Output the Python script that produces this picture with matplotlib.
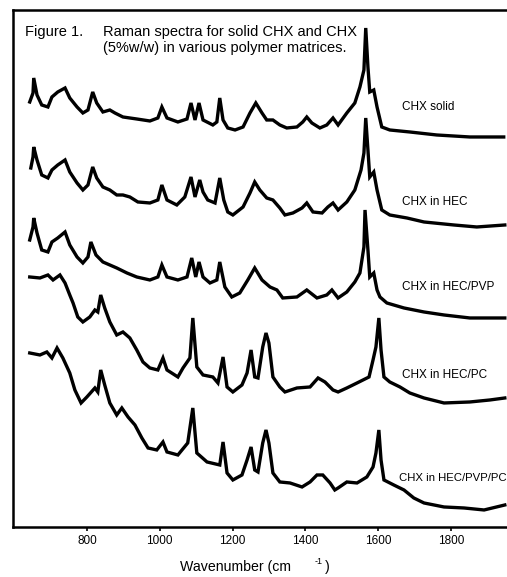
import matplotlib
matplotlib.use("Agg")
import matplotlib.pyplot as plt

plt.rcParams['font.family'] = ['Liberation Sans', 'DejaVu Sans']

# wavenumber (cm-1) / intensity (arb., stacked)
wn_solid = [643, 652, 654, 663, 676, 693, 704, 720, 740, 753, 773, 789, 803, 816, 827, 844, 863, 877,
            899, 937, 973, 995, 1006, 1020, 1050, 1075, 1086, 1097, 1108, 1119, 1146, 1157, 1165, 1174,
            1187, 1207, 1229, 1248, 1264, 1281, 1294, 1311, 1330, 1349, 1377, 1393, 1404, 1418, 1440,
            1459, 1476, 1490, 1514, 1536, 1550, 1561, 1566, 1572, 1577, 1588, 1597, 1610, 1632, 1687,
            1761, 1852, 1945]
int_solid = [425, 434, 449, 432, 422, 420, 430, 435, 439, 429, 420, 414, 417, 435, 424, 415, 417, 414,
             410, 408, 406, 409, 420, 409, 405, 408, 424, 407, 424, 407, 402, 405, 429, 407,
             399, 397, 400, 414, 424, 414, 407, 407, 402, 399, 400, 405, 410, 404, 399,
             402, 409, 402, 414, 424, 440, 457, 499, 460, 435, 437, 420, 400, 397, 395,
             392, 390, 390]

wn_hec = [646, 652, 654, 663, 676, 693, 704, 720, 740, 753, 773, 789, 803, 816, 827, 844, 863, 882,
          899, 918, 940, 973, 995, 1006, 1020, 1047, 1069, 1086, 1097, 1110, 1119, 1132, 1152, 1165,
          1176, 1187, 1201, 1229, 1248, 1261, 1275, 1294, 1311, 1330, 1344, 1366, 1391, 1404, 1421,
          1446, 1462, 1476, 1490, 1514, 1536, 1553, 1561, 1566, 1572, 1577, 1588, 1597, 1610, 1632,
          1679, 1726, 1808, 1871, 1948]
int_hec = [359, 370, 380, 367, 352, 349, 357, 362, 367, 355, 344, 337, 342, 360, 349, 340, 337, 332,
           332, 330, 325, 324, 327, 342, 327, 322, 330, 350, 330, 347, 335, 327, 324, 349,
           327, 315, 312, 320, 334, 345, 337, 329, 327, 319, 312, 314, 319, 324, 315,
           314, 320, 324, 317, 325, 337, 357, 374, 409, 377, 350, 355, 337, 317, 312,
           309, 305, 302, 300, 302]

wn_pvp = [643, 652, 654, 663, 676, 693, 704, 720, 740, 753, 773, 789, 803, 811, 825, 844, 863, 882,
          910, 937, 973, 995, 1006, 1020, 1050, 1075, 1088, 1099, 1108, 1119, 1138, 1157, 1165, 1179,
          1198, 1220, 1242, 1261, 1281, 1303, 1322, 1338, 1377, 1404, 1432, 1459, 1473, 1490, 1514,
          1536, 1550, 1561, 1564, 1572, 1577, 1588, 1597, 1605, 1624, 1671, 1726, 1781, 1852, 1948]
int_pvp = [287, 300, 309, 294, 277, 275, 285, 289, 295, 282, 270, 264, 270, 285, 272, 265, 262, 259,
           254, 250, 247, 250, 262, 250, 247, 250, 269, 250, 265, 250, 244, 247, 265, 240,
           230, 234, 247, 259, 247, 240, 237, 229, 230, 237, 229, 232, 237, 229, 235,
           245, 254, 280, 317, 277, 250, 254, 237, 230, 224, 219, 215, 212, 209, 209]

wn_pc = [643, 671, 693, 707, 726, 740, 753, 762, 775, 789, 808, 822, 830, 838, 849, 863, 882, 899,
         918, 937, 954, 973, 995, 1009, 1020, 1050, 1064, 1083, 1091, 1102, 1119, 1146, 1160, 1174,
         1185, 1201, 1226, 1240, 1251, 1261, 1270, 1283, 1292, 1300, 1311, 1330, 1344, 1377, 1413,
         1435, 1454, 1476, 1490, 1514, 1542, 1575, 1586, 1594, 1602, 1608, 1616, 1632, 1660, 1687,
         1726, 1781, 1852, 1907, 1948]
int_pc = [250, 249, 252, 247, 252, 244, 232, 224, 210, 205, 210, 217, 215, 232, 219, 205, 192, 195,
          189, 177, 165, 159, 157, 169, 157, 150, 159, 169, 209, 160, 152, 150, 144, 170,
          140, 135, 142, 154, 177, 150, 149, 180, 194, 184, 150, 140, 135, 139, 140,
          149, 145, 137, 135, 139, 144, 150, 167, 180, 209, 177, 150, 145, 140, 134,
          129, 124, 125, 127, 129]

wn_pvp_pc = [643, 671, 690, 704, 718, 734, 753, 767, 784, 800, 822, 830, 838, 849, 863, 882, 896, 913,
             932, 951, 968, 992, 1009, 1020, 1050, 1077, 1091, 1102, 1130, 1165, 1174, 1185, 1201, 1226,
             1240, 1251, 1261, 1270, 1283, 1292, 1300, 1311, 1330, 1358, 1391, 1413, 1432, 1448, 1468,
             1481, 1490, 1514, 1542, 1569, 1586, 1594, 1602, 1608, 1616, 1643, 1671, 1698, 1726, 1781,
             1836, 1891, 1948]
int_pvp_pc = [174, 172, 175, 169, 179, 169, 154, 137, 124, 130, 139, 135, 157, 142, 124, 112, 119, 110,
              102, 89, 79, 77, 85, 75, 72, 84, 119, 74, 65, 62, 85, 54, 47, 52,
              67, 80, 57, 55, 84, 97, 84, 54, 45, 44, 40, 45, 52, 52, 44,
              37, 39, 45, 44, 50, 60, 74, 97, 67, 47, 42, 37, 29, 24, 20,
              19, 17, 22]

labels = ["CHX in HEC/PVP/PC", "CHX in HEC/PC", "CHX in HEC/PVP", "CHX in HEC", "CHX solid"]
labels = labels[::-1]
label_y = [420, 325, 240, 152, 49]
label_x = [1665, 1665, 1665, 1665, 1658]
label_size = [8.5, 8.5, 8.5, 8.5, 8.2]
ticks = [800, 1000, 1200, 1400, 1600, 1800]

fig = plt.figure(figsize=(5.07, 5.77), dpi=100)
ax = fig.add_axes([0.0256, 0.0867, 0.9744, 0.896])

spectra = [(wn_solid, int_solid), (wn_hec, int_hec), (wn_pvp, int_pvp),
           (wn_pc, int_pc), (wn_pvp_pc, int_pvp_pc)]
for wn, inten in spectra:
    ax.plot(wn, inten, color="k", lw=2.4, solid_joinstyle="miter")

for lab, xx, yy, fs in zip(labels, label_x, label_y, label_size):
    ax.text(xx, yy, lab, fontsize=fs, va="center", ha="left", clip_on=False)

ax.text(630, 491, "Figure 1.", fontsize=10.5, va="baseline")
ax.text(844, 491, "Raman spectra for solid CHX and CHX", fontsize=10.5, va="baseline")
ax.text(844, 475, "(5%w/w) in various polymer matrices.", fontsize=10.5, va="baseline")

ax.set_xlim(597, 1954)
ax.set_ylim(0, 517)
ax.set_xticks(ticks)
ax.set_yticks([])
ax.tick_params(axis="x", direction="out", length=3, width=1.2, labelsize=8.5, pad=3)
for s in ["left", "top", "bottom"]:
    ax.spines[s].set_linewidth(1.8)
ax.spines["right"].set_visible(False)

fig.text(180 / 507, 1 - 567 / 577, "Wavenumber (cm", fontsize=10.2, va="center", ha="left")
fig.text(315 / 507, 1 - 562 / 577, "-1", fontsize=6.5, va="center", ha="left")
fig.text(325 / 507, 1 - 567 / 577, ")", fontsize=10.2, va="center", ha="left")

plt.savefig("out.png", dpi=100)
